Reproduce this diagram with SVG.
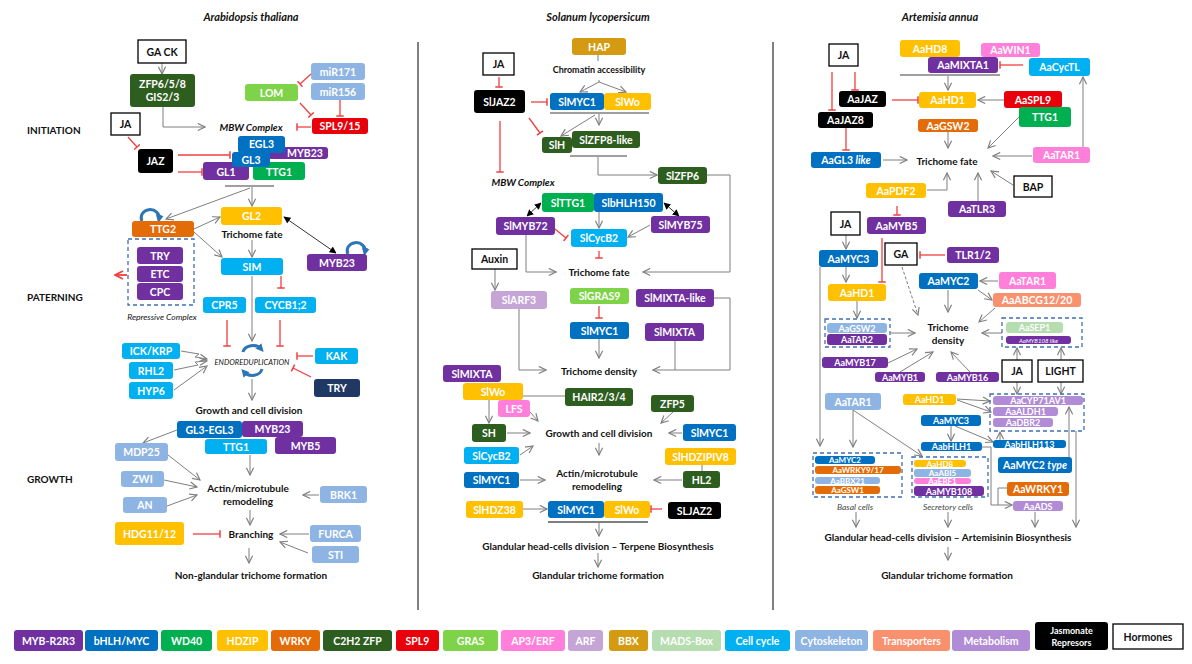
<svg xmlns="http://www.w3.org/2000/svg" width="1192" height="664" viewBox="0 0 1192 664">
<style>
rect{rx:3;ry:3}
.myb{fill:#7030A0}.bh{fill:#0070C0}.wd{fill:#00B050}.hd{fill:#FFC000}.wr{fill:#E36C09}.zf{fill:#2E5E1F}
.sp{fill:#E8000B}.gr{fill:#7ED348}.ap{fill:#FF7FDB}.arf{fill:#C5A5D6}.bbx{fill:#D49B12}.mads{fill:#B5DDB0}
.cc{fill:#00B0F0}.cy{fill:#8EB4E3}.tr{fill:#F9916F}.me{fill:#B18BD6}.ja{fill:#000}.nv{fill:#1F3864}
.ho{fill:#fff;stroke:#000;stroke-width:1.3;rx:0;ry:0}
.dash{fill:none;stroke:#3F6FB0;stroke-width:1.3;stroke-dasharray:4 3;rx:0;ry:0}
text{font-family:Lato,"Liberation Sans",sans-serif;font-weight:bold}
.w{fill:#fff;font-size:10.5px;text-anchor:middle;dominant-baseline:central}
.xs{font-size:8px}
.sm{font-size:9px}
.h{fill:#111;font-size:10.5px;text-anchor:middle;dominant-baseline:central}
.l{fill:#111;font-size:10px;text-anchor:middle;dominant-baseline:central}
.st{fill:#111;font-size:10px;dominant-baseline:central}
.it{font-style:italic}
.ti{fill:#111;font-size:11px;font-style:italic;text-anchor:middle}
.c{fill:none;stroke:#7f7f7f;stroke-width:1}
.cd{fill:none;stroke:#7f7f7f;stroke-width:1;stroke-dasharray:3 2}
.cr{fill:none;stroke:#F04040;stroke-width:1.3}
.ck{fill:none;stroke:#333;stroke-width:1}
.bar{fill:none;stroke:#7f7f7f;stroke-width:1.5}
.cb{fill:none;stroke:#2E75B6;stroke-width:3}
.div{stroke:#555;stroke-width:1.5}
</style>
<defs>
<marker id="a" viewBox="0 0 10 10" refX="9" refY="5" markerWidth="9" markerHeight="9" orient="auto" markerUnits="userSpaceOnUse"><path d="M1,1 L9,5 L1,9" fill="none" stroke="#7f7f7f" stroke-width="1.3"/></marker>
<marker id="r" viewBox="0 0 4 10" refX="2" refY="5" markerWidth="3" markerHeight="8" orient="auto" markerUnits="userSpaceOnUse"><path d="M2,0 V10" stroke="#F04040" stroke-width="2"/></marker>
<marker id="ra" viewBox="0 0 10 10" refX="9" refY="5" markerWidth="10" markerHeight="10" orient="auto" markerUnits="userSpaceOnUse"><path d="M1,1 L9,5 L1,9" fill="none" stroke="#F04040" stroke-width="1.8"/></marker>
<marker id="k" viewBox="0 0 10 10" refX="9" refY="5" markerWidth="7" markerHeight="7" orient="auto-start-reverse" markerUnits="userSpaceOnUse"><path d="M0,0 L10,5 L0,10 z" fill="#000"/></marker>
<marker id="b" viewBox="0 0 10 10" refX="5" refY="5" markerWidth="8" markerHeight="8" orient="auto" markerUnits="userSpaceOnUse"><path d="M0,0 L10,5 L0,10 z" fill="#2E75B6"/></marker>
</defs>
<rect x="0" y="0" width="1192" height="664" fill="#fff" style="rx:0"/>

<!-- titles -->
<text class="ti" x="251" y="21">Arabidopsis thaliana</text>
<text class="ti" x="598" y="21">Solanum lycopersicum</text>
<text class="ti" x="940" y="21">Artemisia annua</text>
<line class="div" x1="418" y1="42" x2="418" y2="610"/>
<line class="div" x1="773" y1="42" x2="773" y2="610"/>

<g id="connectors">
<!-- left -->
<path class="c" d="M162,63 V74" marker-end="url(#a)"/>
<path class="c" d="M163,107 V127 H205" marker-end="url(#a)"/>
<path class="cr" d="M311,74 L300,84" marker-end="url(#r)"/>
<path class="cr" d="M300,103 L311,115" marker-end="url(#r)"/>
<path class="cr" d="M340,100 V116" marker-end="url(#r)"/>
<path class="cr" d="M311,127 H297" marker-end="url(#r)"/>
<path class="cr" d="M128,137 L137,147" marker-end="url(#r)"/>
<path class="cr" d="M178,155 H230" marker-end="url(#r)"/>
<path class="cr" d="M178,172 H202" marker-end="url(#r)"/>
<path class="bar" d="M225,186 H274"/>
<path class="c" d="M252,187 V206" marker-end="url(#a)"/>
<path class="c" d="M250,188 L166,219" marker-end="url(#a)"/>
<path class="c" d="M194,229 L220,217" marker-end="url(#a)"/>
<path class="c" d="M194,232 L222,257" marker-end="url(#a)"/>
<path class="ck" d="M284,217 L336,253" marker-start="url(#k)" marker-end="url(#k)"/>
<path class="c" d="M252,240 V257" marker-end="url(#a)"/>
<path class="cr" d="M127,275 H115" marker-end="url(#ra)" style="stroke-width:1.8"/>
<path class="cr" d="M281,276 V288" marker-end="url(#r)"/>
<path class="c" d="M252,276 V341" marker-end="url(#a)"/>
<path class="cr" d="M227,320 V346" marker-end="url(#r)"/>
<path class="cr" d="M280,320 V346" marker-end="url(#r)"/>
<path class="c" d="M181,351 L199,354 L195,357 L207,359" marker-end="url(#a)"/>
<path class="c" d="M174,370 L198,365 L195,362 L207,361" marker-end="url(#a)"/>
<path class="c" d="M174,390 L207,366" marker-end="url(#a)"/>
<path class="cr" d="M313,356 H297" marker-end="url(#r)"/>
<path class="cr" d="M311,377 L293,368" marker-end="url(#r)"/>
<path class="cb" d="M243,352 A10,8 0 0 1 261,349" marker-end="url(#b)"/>
<path class="cb" d="M262,369 A10,8 0 0 1 244,372" marker-end="url(#b)"/>
<path class="cb" d="M142,221 A9,8 0 1 1 159,219" marker-end="url(#b)"/>
<path class="cb" d="M348,254 A9,8 0 1 1 365,252" marker-end="url(#b)"/>
<path class="c" d="M252,379 V400" marker-end="url(#a)"/>
<path class="c" d="M177,430 L143,443" marker-end="url(#a)"/>
<path class="c" d="M168,455 L200,480" marker-end="url(#a)"/>
<path class="c" d="M164,480 L197,487" marker-end="url(#a)"/>
<path class="c" d="M167,506 L197,495" marker-end="url(#a)"/>
<path class="c" d="M250,455 V475" marker-end="url(#a)"/>
<path class="c" d="M319,495 H303" marker-end="url(#a)"/>
<path class="c" d="M250,510 V525" marker-end="url(#a)"/>
<path class="cr" d="M193,534 H220" marker-end="url(#r)"/>
<path class="c" d="M309,534 H280" marker-end="url(#a)"/>
<path class="c" d="M308,553 L280,542" marker-end="url(#a)"/>
<path class="c" d="M249,548 V563" marker-end="url(#a)"/>
<!-- middle -->
<path d="M598,55 V61" stroke="#4F81BD" stroke-width="1"/>
<path class="c" d="M599,80 V82 L580,92" marker-end="url(#a)"/>
<path class="c" d="M599,82 L626,92" marker-end="url(#a)"/>
<path class="cr" d="M499,77 V87" marker-end="url(#r)"/>
<path class="cr" d="M531,102 H547" marker-end="url(#r)"/>
<path class="cr" d="M529,118 L540,133" marker-end="url(#r)"/>
<path class="cr" d="M500,121 V172" marker-end="url(#r)"/>
<path class="bar" d="M550,113 H649"/>
<path class="c" d="M599,114 V125" marker-end="url(#a)"/>
<path class="c" d="M595,115 L561,136" marker-end="url(#a)"/>
<path class="bar" d="M570,156 H627"/>
<path class="c" d="M598,157 V175 H657" marker-end="url(#a)"/>
<path class="c" d="M707,175 H730 V272 H643" marker-end="url(#a)"/>
<path class="ck" d="M541,203 L527,216" marker-start="url(#k)" marker-end="url(#k)"/>
<path class="ck" d="M664,203 L679,216" marker-start="url(#k)" marker-end="url(#k)"/>
<path class="c" d="M599,212 V228" marker-end="url(#a)"/>
<path class="c" d="M650,225 L628,237" marker-end="url(#a)"/>
<path class="cr" d="M555,229 L566,238" marker-end="url(#r)"/>
<path class="cr" d="M599,251 V258" marker-end="url(#r)"/>
<path class="c" d="M526,235 V272 H556" marker-end="url(#a)"/>
<path class="c" d="M495,269 V290" marker-end="url(#a)"/>
<path class="c" d="M519,309 V370 H546" marker-end="url(#a)"/>
<path class="cr" d="M599,306 V318" marker-end="url(#r)"/>
<path class="c" d="M599,339 V358" marker-end="url(#a)"/>
<path class="c" d="M714,298 H730 V370 H653" marker-end="url(#a)"/>
<path class="c" d="M675,341 V370"/>
<path class="c" d="M523,396 H565"/>
<path class="c" d="M489,400 V423" marker-end="url(#a)"/>
<path class="c" d="M530,412 L538,421" marker-end="url(#a)"/>
<path class="c" d="M673,412 L661,423" marker-end="url(#a)"/>
<path class="c" d="M507,433 H530" marker-end="url(#a)"/>
<path class="c" d="M682,433 H669" marker-end="url(#a)"/>
<path class="c" d="M520,455 L533,446" marker-end="url(#a)"/>
<path class="c" d="M599,443 V455" marker-end="url(#a)"/>
<path class="c" d="M520,480 H545" marker-end="url(#a)"/>
<path class="c" d="M702,465 V471"/>
<path class="c" d="M682,480 H654" marker-end="url(#a)"/>
<path class="c" d="M523,509 H547" marker-end="url(#a)"/>
<path class="cr" d="M662,509 H651" marker-end="url(#r)"/>
<path class="bar" d="M548,522 H648" style="stroke-width:2"/>
<path class="c" d="M599,523 V536" marker-end="url(#a)"/>
<path class="c" d="M598,553 V567" marker-end="url(#a)"/>
<!-- right -->
<path class="cr" d="M832,72 V110" marker-end="url(#r)"/>
<path class="cr" d="M855,72 V90" marker-end="url(#r)"/>
<path class="cr" d="M892,100 H918" marker-end="url(#r)"/>
<path class="cr" d="M846,128 V150" marker-end="url(#r)"/>
<path class="c" d="M883,160 H907" marker-end="url(#a)"/>
<path class="cr" d="M1023,65 H1000" marker-end="url(#r)"/>
<path class="bar" d="M900,75 H1000"/>
<path class="c" d="M948,76 V90" marker-end="url(#a)"/>
<path class="c" d="M1004,100 H978" marker-end="url(#a)"/>
<path class="c" d="M1019,117 L988,148" marker-end="url(#a)"/>
<path class="c" d="M948,132 V148" marker-end="url(#a)"/>
<path class="c" d="M1032,156 H993" marker-end="url(#a)"/>
<path class="c" d="M1083,147 V77" marker-end="url(#a)"/>
<path class="c" d="M1013,185 L991,171" marker-end="url(#a)"/>
<path class="c" d="M927,190 H947 V173" marker-end="url(#a)"/>
<path class="c" d="M978,201 V173" marker-end="url(#a)"/>
<path class="cr" d="M897,206 V215" marker-end="url(#r)"/>
<path class="c" d="M846,235 V249" marker-end="url(#a)"/>
<path class="cr" d="M882,238 V282" marker-end="url(#r)"/>
<path class="c" d="M820,267 V446" marker-end="url(#a)"/>
<path class="c" d="M846,267 V282" marker-end="url(#a)"/>
<path class="c" d="M857,301 V318" marker-end="url(#a)"/>
<path class="c" d="M891,333 H915" marker-end="url(#a)"/>
<path class="cr" d="M945,255 H920" marker-end="url(#r)"/>
<path class="cd" d="M902,267 L918,315" marker-end="url(#a)"/>
<path class="c" d="M998,281 H980" marker-end="url(#a)"/>
<path class="c" d="M978,290 L992,300" marker-end="url(#a)"/>
<path class="c" d="M948,290 V312" marker-end="url(#a)"/>
<path class="c" d="M995,308 L979,322" marker-end="url(#a)"/>
<path class="c" d="M1002,333 H982" marker-end="url(#a)"/>
<path class="c" d="M1017,360 V348" marker-end="url(#a)"/>
<path class="c" d="M1061,360 V348" marker-end="url(#a)"/>
<path class="c" d="M1017,382 V394" marker-end="url(#a)"/>
<path class="c" d="M1061,382 V394" marker-end="url(#a)"/>
<path class="c" d="M888,363 L917,349" marker-end="url(#a)"/>
<path class="c" d="M900,372 L933,352" marker-end="url(#a)"/>
<path class="c" d="M970,372 L951,352" marker-end="url(#a)"/>
<path class="c" d="M853,410 V447" marker-end="url(#a)"/>
<path class="c" d="M853,410 L922,456" marker-end="url(#a)"/>
<path class="c" d="M957,399 L990,401" marker-end="url(#a)"/>
<path class="c" d="M957,400 L991,412" marker-end="url(#a)"/>
<path class="c" d="M951,426 V441" marker-end="url(#a)"/>
<path class="c" d="M955,426 L993,442" marker-end="url(#a)"/>
<path class="c" d="M1000,440 V432" marker-end="url(#a)"/>
<path class="c" d="M982,447 H991 V505 H1012" marker-end="url(#a)"/>
<path class="c" d="M1007,488 H998 V505"/>
<path class="c" d="M1069,457 V407" marker-end="url(#a)"/>
<path class="c" d="M1076,431 V527" marker-end="url(#a)"/>
<path class="c" d="M1035,512 V527" marker-end="url(#a)"/>
<path class="c" d="M856,512 V527" marker-end="url(#a)"/>
<path class="c" d="M948,512 V527" marker-end="url(#a)"/>
<path class="c" d="M948,547 V560" marker-end="url(#a)"/>
</g>

<!-- LEFT PANEL -->
<g id="lab-left">
<text class="st" x="27" y="130">INITIATION</text>
<text class="st" x="27" y="297">PATERNING</text>
<text class="st" x="27" y="479">GROWTH</text>
<text class="l it" x="251" y="127">MBW Complex</text>
<text class="l" x="252" y="234">Trichome fate</text>
<text class="l it" x="162" y="317" style="font-weight:normal;font-size:8.5px">Repressive Complex</text>
<text class="l it" x="252" y="362" style="font-size:7.5px;font-weight:normal">ENDOREDUPLICATION</text>
<text class="l" x="249" y="410">Growth and cell division</text>
<text class="l" x="248" y="488">Actin/microtubule</text>
<text class="l" x="248" y="501">remodeling</text>
<text class="l" x="251" y="534">Branching</text>
<text class="l" x="251" y="575">Non-glandular trichome formation</text>
</g>
<g id="n-gack"><rect class="ho" x="138" y="40" width="48" height="23"/><text class="h" x="162" y="51.5">GA CK</text></g>
<g id="n-zfp"><rect class="zf" x="130" y="74" width="65" height="33"/><text class="w" x="162.5" y="84">ZFP6/5/8</text><text class="w" x="162.5" y="97">GIS2/3</text></g>
<g id="n-lom"><rect class="gr" x="245" y="84" width="53" height="17"/><text class="w" x="271.5" y="92.5">LOM</text></g>
<g id="n-mir171"><rect class="cy" x="311" y="63" width="54" height="17"/><text class="w" x="338" y="71.5">miR171</text></g>
<g id="n-mir156"><rect class="cy" x="311" y="83" width="54" height="17"/><text class="w" x="338" y="91.5">miR156</text></g>
<g id="n-spl915"><rect class="sp" x="312" y="118" width="56" height="16"/><text class="w" x="340" y="126">SPL9/15</text></g>
<g id="n-ja1"><rect class="ho" x="111" y="113" width="29" height="22"/><text class="h" x="125.5" y="124">JA</text></g>
<g id="n-jaz"><rect class="ja" x="138" y="149" width="35" height="24"/><text class="w" x="155.5" y="161">JAZ</text></g>
<g id="n-myb23a"><rect class="myb" x="268" y="147" width="60" height="12"/><text class="w" x="305" y="153">MYB23</text></g>
<g id="n-egl3"><rect class="bh" x="238" y="136" width="47" height="17"/><text class="w" x="261.5" y="144">EGL3</text></g>
<g id="n-gl1"><rect class="myb" x="203" y="162" width="46" height="18"/><text class="w" x="226" y="172">GL1</text></g>
<g id="n-ttg1a"><rect class="wd" x="253" y="162" width="52" height="18"/><text class="w" x="279" y="172">TTG1</text></g>
<g id="n-gl3"><rect class="bh" x="232" y="152" width="38" height="15"/><text class="w" x="251" y="159.5">GL3</text></g>
<g id="n-gl2"><rect class="hd" x="221" y="207" width="61" height="18"/><text class="w" x="251.5" y="216">GL2</text></g>
<g id="n-ttg2"><rect class="wr" x="132" y="221" width="62" height="16"/><text class="w" x="163" y="229">TTG2</text></g>
<g id="n-repress"><rect class="dash" x="128" y="239" width="66" height="66"/>
<rect class="myb" x="137" y="247" width="46" height="17"/><text class="w" x="160" y="255.5">TRY</text>
<rect class="myb" x="137" y="266" width="46" height="16"/><text class="w" x="160" y="274">ETC</text>
<rect class="myb" x="137" y="283" width="46" height="17"/><text class="w" x="160" y="291.5">CPC</text></g>
<g id="n-sim"><rect class="cc" x="221" y="258" width="62" height="17"/><text class="w" x="252" y="266.5">SIM</text></g>
<g id="n-myb23b"><rect class="myb" x="307" y="254" width="60" height="17"/><text class="w" x="337" y="262.5">MYB23</text></g>
<g id="n-cpr5"><rect class="cc" x="203" y="297" width="43" height="16"/><text class="w" x="224.5" y="305">CPR5</text></g>
<g id="n-cycb12"><rect class="cc" x="255" y="297" width="61" height="16"/><text class="w" x="285.5" y="305">CYCB1;2</text></g>
<g id="n-ickkrp"><rect class="cc" x="122" y="343" width="58" height="16"/><text class="w" x="151" y="351">ICK/KRP</text></g>
<g id="n-rhl2"><rect class="cc" x="129" y="362" width="44" height="17"/><text class="w" x="151" y="370.5">RHL2</text></g>
<g id="n-hyp6"><rect class="cc" x="129" y="382" width="44" height="17"/><text class="w" x="151" y="390.5">HYP6</text></g>
<g id="n-kak"><rect class="cc" x="315" y="348" width="43" height="16"/><text class="w" x="336.5" y="356">KAK</text></g>
<g id="n-try2"><rect class="nv" x="314" y="379" width="46" height="18"/><text class="w" x="337" y="388">TRY</text></g>
<g id="n-gl3egl3"><rect class="bh" x="177" y="421" width="65" height="17"/><text class="w" x="209.5" y="429.5">GL3-EGL3</text></g>
<g id="n-myb5"><rect class="myb" x="275" y="437" width="61" height="17"/><text class="w" x="305.5" y="445.5">MYB5</text></g>
<g id="n-myb23c"><rect class="myb" x="242" y="421" width="61" height="16"/><text class="w" x="272.5" y="429">MYB23</text></g>
<g id="n-ttg1b"><rect class="cc" x="205" y="439" width="62" height="15"/><text class="w" x="236" y="446.5">TTG1</text></g>
<g id="n-mdp25"><rect class="cy" x="115" y="443" width="53" height="18"/><text class="w" x="141.5" y="452">MDP25</text></g>
<g id="n-zwi"><rect class="cy" x="121" y="471" width="43" height="16"/><text class="w" x="142.5" y="479">ZWI</text></g>
<g id="n-an"><rect class="cy" x="123" y="497" width="44" height="16"/><text class="w" x="145" y="505">AN</text></g>
<g id="n-brk1"><rect class="cy" x="320" y="486" width="47" height="17"/><text class="w" x="343.5" y="494.5">BRK1</text></g>
<g id="n-hdg"><rect class="hd" x="115" y="522" width="69" height="23"/><text class="w" x="149.5" y="533.5">HDG11/12</text></g>
<g id="n-furca"><rect class="cy" x="310" y="525" width="51" height="17"/><text class="w" x="335.5" y="533.5">FURCA</text></g>
<g id="n-sti"><rect class="cy" x="312" y="546" width="47" height="17"/><text class="w" x="335.5" y="554.5">STI</text></g>

<!-- MIDDLE PANEL -->
<g id="lab-mid">
<text class="l" x="599" y="69" style="font-size:9px">Chromatin accessibility</text>
<text class="l it" x="523" y="182">MBW Complex</text>
<text class="l" x="599" y="272">Trichome fate</text>
<text class="l" x="599" y="371">Trichome density</text>
<text class="l" x="599" y="433">Growth and cell division</text>
<text class="l" x="597" y="473">Actin/microtubule</text>
<text class="l" x="597" y="486">remodeling</text>
<text class="l" x="598" y="546">Glandular head-cells division – Terpene Biosynthesis</text>
<text class="l" x="598" y="575">Glandular trichome formation</text>
</g>
<g id="n-hap"><rect class="bbx" x="572" y="38" width="54" height="17"/><text class="w" x="599" y="46.5">HAP</text></g>
<g id="n-slmyc1a"><rect class="bh" x="550" y="93" width="54" height="17"/><text class="w" x="577" y="101.5">SlMYC1</text></g>
<g id="n-slwoa"><rect class="hd" x="604" y="93" width="47" height="17"/><text class="w" x="627.5" y="101.5">SlWo</text></g>
<g id="n-ja2"><rect class="ho" x="483" y="53" width="31" height="22"/><text class="h" x="498.5" y="64">JA</text></g>
<g id="n-sljaz2a"><rect class="ja" x="474" y="90" width="51" height="23"/><text class="w" x="499.5" y="101.5">SlJAZ2</text></g>
<g id="n-slh"><rect class="zf" x="542" y="137" width="30" height="16"/><text class="w" x="557" y="145">SlH</text></g>
<g id="n-slzfp8"><rect class="zf" x="572" y="131" width="68" height="17"/><text class="w" x="606" y="139.5">SlZFP8-like</text></g>
<g id="n-slzfp6"><rect class="zf" x="658" y="167" width="49" height="17"/><text class="w" x="682.5" y="175.5">SlZFP6</text></g>
<g id="n-slttg1"><rect class="wd" x="542" y="193" width="52" height="19"/><text class="w" x="568" y="202.5">SlTTG1</text></g>
<g id="n-slbhlh150"><rect class="bh" x="594" y="193" width="69" height="19"/><text class="w" x="628.5" y="202.5">SlbHLH150</text></g>
<g id="n-slmyb72"><rect class="myb" x="496" y="217" width="59" height="18"/><text class="w" x="525.5" y="226">SlMYB72</text></g>
<g id="n-slmyb75"><rect class="myb" x="651" y="216" width="59" height="17"/><text class="w" x="680.5" y="224.5">SlMYB75</text></g>
<g id="n-slcycb2a"><rect class="cc" x="571" y="229" width="56" height="18"/><text class="w" x="599" y="238">SlCycB2</text></g>
<g id="n-auxin"><rect class="ho" x="472" y="249" width="45" height="20"/><text class="h" x="494.5" y="259">Auxin</text></g>
<g id="n-slarf3"><rect class="arf" x="491" y="291" width="56" height="18"/><text class="w" x="519" y="300">SlARF3</text></g>
<g id="n-slgras9"><rect class="gr" x="570" y="288" width="59" height="16"/><text class="w" x="599.5" y="296">SlGRAS9</text></g>
<g id="n-slmyc1b"><rect class="bh" x="570" y="322" width="59" height="17"/><text class="w" x="599.5" y="330.5">SlMYC1</text></g>
<g id="n-slmixtalike"><rect class="myb" x="636" y="289" width="78" height="18"/><text class="w" x="675" y="298">SlMIXTA-like</text></g>
<g id="n-slmixtaa"><rect class="myb" x="645" y="323" width="59" height="18"/><text class="w" x="674.5" y="332">SlMIXTA</text></g>
<g id="n-slmixtab"><rect class="myb" x="443" y="365" width="58" height="17"/><text class="w" x="472" y="373.5">SlMIXTA</text></g>
<g id="n-slwob"><rect class="hd" x="463" y="383" width="60" height="17"/><text class="w" x="493" y="391.5">SlWo</text></g>
<g id="n-hair"><rect class="zf" x="565" y="388" width="68" height="18"/><text class="w" x="599" y="397">HAIR2/3/4</text></g>
<g id="n-lfs"><rect class="ap" x="498" y="400" width="32" height="17"/><text class="w" x="514" y="408.5">LFS</text></g>
<g id="n-zfp5"><rect class="zf" x="651" y="395" width="43" height="17"/><text class="w" x="672.5" y="403.5">ZFP5</text></g>
<g id="n-sh"><rect class="zf" x="472" y="424" width="34" height="18"/><text class="w" x="489" y="433">SH</text></g>
<g id="n-slmyc1c"><rect class="bh" x="683" y="424" width="53" height="17"/><text class="w" x="709.5" y="432.5">SlMYC1</text></g>
<g id="n-slcycb2b"><rect class="cc" x="464" y="447" width="55" height="17"/><text class="w" x="491.5" y="455.5">SlCycB2</text></g>
<g id="n-slhdzipiv8"><rect class="hd" x="665" y="448" width="71" height="17"/><text class="w" x="700.5" y="456.5">SlHDZIPIV8</text></g>
<g id="n-slmyc1d"><rect class="bh" x="464" y="472" width="55" height="16"/><text class="w" x="491.5" y="480">SlMYC1</text></g>
<g id="n-hl2"><rect class="zf" x="683" y="471" width="37" height="17"/><text class="w" x="701.5" y="479.5">HL2</text></g>
<g id="n-slhdz38"><rect class="hd" x="466" y="501" width="57" height="17"/><text class="w" x="494.5" y="509.5">SlHDZ38</text></g>
<g id="n-slmyc1e"><rect class="bh" x="548" y="501" width="56" height="17"/><text class="w" x="576" y="509.5">SlMYC1</text></g>
<g id="n-slwoc"><rect class="hd" x="604" y="501" width="46" height="17"/><text class="w" x="627" y="509.5">SlWo</text></g>
<g id="n-sljaz2b"><rect class="ja" x="668" y="502" width="53" height="17"/><text class="w" x="694.5" y="510.5">SLJAZ2</text></g>

<!-- RIGHT PANEL -->
<g id="lab-right">
<text class="l" x="947" y="161">Trichome fate</text>
<text class="l" x="948" y="327">Trichome</text>
<text class="l" x="948" y="340">density</text>
<text class="l it" x="855" y="507" style="font-weight:normal;font-size:8.5px;fill:#444">Basal cells</text>
<text class="l it" x="948" y="507" style="font-weight:normal;font-size:8.5px;fill:#444">Secretory cells</text>
<text class="l" x="948" y="537">Glandular head-cells division – Artemisinin Biosynthesis</text>
<text class="l" x="947" y="575">Glandular trichome formation</text>
</g>
<g id="n-ja3"><rect class="ho" x="829" y="44" width="29" height="22"/><text class="h" x="843.5" y="55">JA</text></g>
<g id="n-aajaz"><rect class="ja" x="839" y="91" width="47" height="16"/><text class="w" x="862.5" y="99">AaJAZ</text></g>
<g id="n-aajaz8"><rect class="ja" x="818" y="112" width="55" height="16"/><text class="w" x="845.5" y="120">AaJAZ8</text></g>
<g id="n-aagl3"><rect class="bh" x="811" y="152" width="70" height="16"/><text class="w" x="846" y="160">AaGL3 <tspan style="font-style:italic">like</tspan></text></g>
<g id="n-aahd8"><rect class="hd" x="900" y="40" width="60" height="17"/><text class="w" x="930" y="48.5">AaHD8</text></g>
<g id="n-aawin1"><rect class="ap" x="981" y="43" width="59" height="14"/><text class="w" x="1010.5" y="50">AaWIN1</text></g>
<g id="n-aamixta1"><rect class="myb" x="928" y="57" width="70" height="16"/><text class="w" x="963" y="65">AaMIXTA1</text></g>
<g id="n-aacyctl"><rect class="cc" x="1029" y="58" width="61" height="18"/><text class="w" x="1059.5" y="67">AaCycTL</text></g>
<g id="n-aahd1a"><rect class="hd" x="919" y="92" width="57" height="16"/><text class="w" x="947.5" y="100">AaHD1</text></g>
<g id="n-aaspl9"><rect class="sp" x="1004" y="91" width="58" height="17"/><text class="w" x="1033" y="99.5">AaSPL9</text></g>
<g id="n-ttg1c"><rect class="wd" x="1019" y="107" width="52" height="20"/><text class="w" x="1045" y="117">TTG1</text></g>
<g id="n-aagsw2a"><rect class="wr" x="918" y="119" width="60" height="13"/><text class="w" x="948" y="125.5">AaGSW2</text></g>
<g id="n-aatar1a"><rect class="ap" x="1033" y="147" width="57" height="16"/><text class="w" x="1061.5" y="155">AaTAR1</text></g>
<g id="n-bap"><rect class="ho" x="1014" y="176" width="38" height="21"/><text class="h" x="1033" y="186.5">BAP</text></g>
<g id="n-aapdf2"><rect class="hd" x="866" y="183" width="60" height="15"/><text class="w" x="896" y="190.5">AaPDF2</text></g>
<g id="n-aatlr3"><rect class="myb" x="948" y="201" width="58" height="16"/><text class="w" x="977" y="209">AaTLR3</text></g>
<g id="n-ja4"><rect class="ho" x="831" y="212" width="29" height="23"/><text class="h" x="845.5" y="223.5">JA</text></g>
<g id="n-aamyb5"><rect class="myb" x="867" y="217" width="59" height="17"/><text class="w" x="896.5" y="225.5">AaMYB5</text></g>
<g id="n-aamyc3a"><rect class="bh" x="819" y="250" width="59" height="17"/><text class="w" x="848.5" y="258.5">AaMYC3</text></g>
<g id="n-ga"><rect class="ho" x="885" y="243" width="32" height="22"/><text class="h" x="901" y="254">GA</text></g>
<g id="n-tlr12"><rect class="myb" x="947" y="247" width="52" height="16"/><text class="w" x="973" y="255">TLR1/2</text></g>
<g id="n-aamyc2a"><rect class="bh" x="919" y="273" width="59" height="16"/><text class="w" x="948.5" y="281">AaMYC2</text></g>
<g id="n-aatar1b"><rect class="ap" x="999" y="272" width="57" height="17"/><text class="w" x="1027.5" y="280.5">AaTAR1</text></g>
<g id="n-aaabcg"><rect class="tr" x="993" y="293" width="88" height="14"/><text class="w" x="1037" y="300">AaABCG12/20</text></g>
<g id="n-aahd1b"><rect class="hd" x="828" y="284" width="58" height="17"/><text class="w" x="857" y="292.5">AaHD1</text></g>
<g id="n-grp1"><rect class="dash" x="825" y="319" width="65" height="28"/>
<rect class="cy" x="827" y="323" width="60" height="10"/><text class="w sm" x="857" y="328">AaGSW2</text>
<rect class="myb" x="827" y="334" width="60" height="11"/><text class="w sm" x="857" y="339.5">AaTAR2</text></g>
<g id="n-grp2"><rect class="dash" x="1002" y="318" width="80" height="29"/>
<rect class="mads" x="1006" y="322" width="57" height="11"/><text class="w sm" x="1034.5" y="327.5">AaSEP1</text>
<rect class="myb" x="1006" y="336" width="65" height="8"/><text class="w it" x="1038.5" y="340" style="font-size:6px;font-weight:normal">AaMYB108 like</text></g>
<g id="n-ja5"><rect class="ho" x="1002" y="360" width="30" height="22"/><text class="h" x="1017" y="371">JA</text></g>
<g id="n-light"><rect class="ho" x="1038" y="360" width="45" height="22"/><text class="h" x="1060.5" y="371">LIGHT</text></g>
<g id="n-aamyb17"><rect class="myb" x="822" y="357" width="66" height="11"/><text class="w sm" x="855" y="362.5">AaMYB17</text></g>
<g id="n-aamyb1"><rect class="myb" x="875" y="372" width="50" height="10"/><text class="w sm" x="900" y="377">AaMYB1</text></g>
<g id="n-aamyb16"><rect class="myb" x="936" y="372" width="63" height="10"/><text class="w sm" x="967.5" y="377">AaMYB16</text></g>
<g id="n-aatar1c"><rect class="cy" x="825" y="393" width="56" height="17"/><text class="w" x="853" y="401.5">AaTAR1</text></g>
<g id="n-aahd1c"><rect class="hd" x="903" y="394" width="53" height="11"/><text class="w sm" x="929.5" y="399.5">AaHD1</text></g>
<g id="n-grp3"><rect class="dash" x="990" y="394" width="94" height="37"/>
<rect class="me" x="993" y="396" width="90" height="9"/><text class="w sm" x="1038" y="400.5">AaCYP71AV1</text>
<rect class="me" x="993" y="407" width="65" height="9"/><text class="w sm" x="1025.5" y="411.5">AaALDH1</text>
<rect class="me" x="993" y="418" width="60" height="9"/><text class="w sm" x="1023" y="422.5">AaDBR2</text></g>
<g id="n-aamyc3b"><rect class="bh" x="921" y="415" width="60" height="11"/><text class="w sm" x="951" y="420.5">AaMYC3</text></g>
<g id="n-aabhlh1"><rect class="bh" x="921" y="442" width="61" height="9"/><text class="w sm" x="951.5" y="446.5">AabHLH1</text></g>
<g id="n-aabhlh113"><rect class="bh" x="993" y="440" width="73" height="8"/><text class="w sm" x="1029.5" y="444">AabHLH113</text></g>
<g id="n-aamyc2type"><rect class="bh" x="998" y="457" width="74" height="16"/><text class="w" x="1035" y="465">AaMYC2 <tspan style="font-style:italic">type</tspan></text></g>
<g id="n-basal"><rect class="dash" x="813" y="453" width="89" height="44"/>
<rect class="bh" x="815" y="456" width="60" height="8"/><text class="w xs" x="845" y="460">AaMYC2</text>
<rect class="wr" x="815" y="466" width="86" height="8"/><text class="w xs" x="858" y="470">AaWRKY9/17</text>
<rect class="cy" x="815" y="477" width="65" height="7"/><text class="w xs" x="847.5" y="480.5">AaBBX21</text>
<rect class="wr" x="815" y="486" width="65" height="8"/><text class="w xs" x="847.5" y="490">AaGSW1</text></g>
<g id="n-secretory"><rect class="dash" x="912" y="457" width="76" height="40"/>
<rect class="hd" x="914" y="460" width="52" height="7"/><text class="w xs" x="940" y="463.5">AaHD8</text>
<rect class="cy" x="914" y="469" width="57" height="8"/><text class="w xs" x="942.5" y="473">AaABI5</text>
<rect class="ap" x="914" y="478" width="57" height="6"/><text class="w xs" x="942.5" y="481">AaERF1</text>
<rect class="myb" x="914" y="486" width="70" height="10"/><text class="w sm" x="949" y="491">AaMYB108</text></g>
<g id="n-aawrky1"><rect class="wr" x="1007" y="482" width="62" height="14"/><text class="w" x="1038" y="489">AaWRKY1</text></g>
<g id="n-aaads"><rect class="me" x="1013" y="501" width="50" height="10"/><text class="w sm" x="1038" y="506">AaADS</text></g>

<!-- LEGEND -->
<g id="legend">
<rect class="myb" x="14" y="630" width="69" height="21"/><text class="w" x="48.5" y="640.5">MYB-R2R3</text>
<rect class="bh" x="85" y="630" width="73" height="21"/><text class="w" x="121.5" y="640.5">bHLH/MYC</text>
<rect class="wd" x="161" y="630" width="51" height="21"/><text class="w" x="186.5" y="640.5">WD40</text>
<rect class="hd" x="217" y="630" width="51" height="21"/><text class="w" x="242.5" y="640.5">HDZIP</text>
<rect class="wr" x="271" y="630" width="49" height="21"/><text class="w" x="295.5" y="640.5">WRKY</text>
<rect class="zf" x="323" y="630" width="69" height="21"/><text class="w" x="357.5" y="640.5">C2H2 ZFP</text>
<rect class="sp" x="396" y="630" width="43" height="21"/><text class="w" x="417.5" y="640.5">SPL9</text>
<rect class="gr" x="443" y="630" width="55" height="21"/><text class="w" x="470.5" y="640.5">GRAS</text>
<rect class="ap" x="501" y="630" width="64" height="21"/><text class="w" x="533" y="640.5">AP3/ERF</text>
<rect class="arf" x="568" y="630" width="35" height="21"/><text class="w" x="585.5" y="640.5">ARF</text>
<rect class="bbx" x="609" y="630" width="39" height="21"/><text class="w" x="628.5" y="640.5">BBX</text>
<rect class="mads" x="652" y="630" width="69" height="21"/><text class="w" x="686.5" y="640.5">MADS-Box</text>
<rect class="cc" x="725" y="630" width="65" height="21"/><text class="w" x="757.5" y="640.5">Cell cycle</text>
<rect class="cy" x="795" y="630" width="73" height="21"/><text class="w" x="831.5" y="640.5">Cytoskeleton</text>
<rect class="tr" x="873" y="630" width="77" height="21"/><text class="w" x="911.5" y="640.5">Transporters</text>
<rect class="me" x="952" y="630" width="78" height="21"/><text class="w" x="991" y="640.5">Metabolism</text>
<rect class="ja" x="1035" y="622" width="73" height="28"/><text class="w" x="1071.5" y="630" style="font-size:9px">Jasmonate</text><text class="w" x="1071.5" y="642" style="font-size:9px">Represors</text>
<rect class="ho" x="1113" y="624" width="70" height="25"/><text class="h" x="1148" y="636.5">Hormones</text>
</g>
</svg>
